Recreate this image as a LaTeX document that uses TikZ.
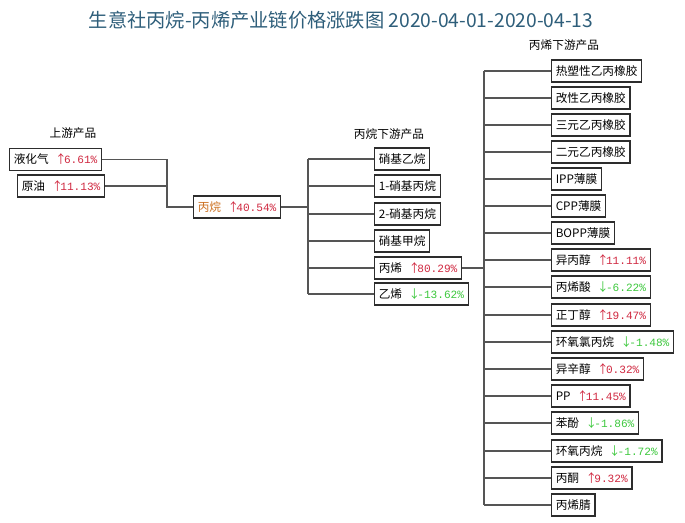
\documentclass[tikz,border=0pt]{standalone}
\usepackage{fontspec}
\setmainfont{Noto Sans CJK SC}
\newfontfamily\pctfont{Liberation Mono}
\usepackage{xcolor}
\usepackage{tikz}
\usetikzlibrary{positioning}

\definecolor{upred}{RGB}{208,40,64}
\definecolor{downgreen}{RGB}{60,200,60}
\definecolor{titleblue}{RGB}{46,94,122}
\definecolor{propaneorange}{RGB}{204,112,32}
\definecolor{boxgray}{RGB}{45,45,45}
\definecolor{linegray}{RGB}{85,85,85}

\newcommand{\pctup}[1]{\hspace{0.55em}{\color{upred}↑\kern-2pt{\pctfont\fontsize{7.9}{9}\selectfont #1\%}}}
\newcommand{\pctdown}[1]{\hspace{0.55em}{\color{downgreen}↓\kern-2pt{\pctfont\fontsize{7.9}{9}\selectfont #1\%}}}

\begin{document}
\begin{tikzpicture}[
  x=0.025cm, y=-0.025cm,
  font=\fontsize{8.3}{10}\selectfont,
  box/.style={rectangle, draw=boxgray, line width=0.8pt, anchor=west,
              inner xsep=3pt, inner ysep=0pt, minimum height=0.55cm, fill=white},
  link/.style={draw=linegray, line width=0.9pt}
]
\useasboundingbox (0,0) rectangle (685,522);

% --- Title ---
\node[text=titleblue, font=\fontsize{13.7}{16}\selectfont] (title) at (341,20)
  {生意社丙烷-丙烯产业链价格涨跌图 2020-04-01-2020-04-13};

% --- Headings ---
\node (uphead)   at (73,133)  {上游产品};
\node (c3head)   at (389,134) {丙烷下游产品};
\node (c3ehead)  at (564,45)  {丙烯下游产品};

% --- Upstream ---
\node[box] (lpg)     at (9,159.5) {液化气\pctup{6.61}};
\node[box] (crude)   at (17,186)  {原油\pctup{11.13}};
\node[box] (propane) at (193,207) {{\color{propaneorange}丙烷}\pctup{40.54}};

% --- Propane downstream ---
\node[box] (nitroethane)   at (374,159) {硝基乙烷};
\node[box] (nitropropaneA) at (374,186) {1-硝基丙烷};
\node[box] (nitropropaneB) at (374,214) {2-硝基丙烷};
\node[box] (nitromethane)  at (374,241) {硝基甲烷};
\node[box] (propylene)     at (374,268) {丙烯\pctup{80.29}};
\node[box] (ethylene)      at (374,294) {乙烯\pctdown{-13.62}};

% --- Propylene downstream ---
\node[box] (tpr)      at (551,71)  {热塑性乙丙橡胶};
\node[box] (mepr)     at (551,98)  {改性乙丙橡胶};
\node[box] (epdm)     at (551,125) {三元乙丙橡胶};
\node[box] (epm)      at (551,152) {二元乙丙橡胶};
\node[box] (ipp)      at (551,179) {IPP薄膜};
\node[box] (cpp)      at (551,206) {CPP薄膜};
\node[box] (bopp)     at (551,233) {BOPP薄膜};
\node[box] (ipa)      at (551,260) {异丙醇\pctup{11.11}};
\node[box] (acrylic)  at (551,287) {丙烯酸\pctdown{-6.22}};
\node[box] (butanol)  at (551,315) {正丁醇\pctup{19.47}};
\node[box] (ech)      at (551,342) {环氧氯丙烷\pctdown{-1.48}};
\node[box] (octanol)  at (551,369) {异辛醇\pctup{0.32}};
\node[box] (pp)       at (551,396) {PP\pctup{11.45}};
\node[box] (phenol)   at (551,423) {苯酚\pctdown{-1.86}};
\node[box] (po)       at (551,451) {环氧丙烷\pctdown{-1.72}};
\node[box] (acetone)  at (551,478) {丙酮\pctup{9.32}};
\node[box] (acn)      at (551,505) {丙烯腈};

% --- Connectors ---
\coordinate (jup) at (167,207);
\draw[link] (lpg.east) -| (jup) -- (propane.west);
\draw[link] (crude.east) -- (crude.east -| jup);

\coordinate (jc3) at (308,207);
\draw[link] (propane.east) -- (jc3);
\draw[link] (jc3 |- nitroethane.west) -- (jc3 |- ethylene.west);
\foreach \n in {nitroethane,nitropropaneA,nitropropaneB,nitromethane,propylene,ethylene}
  \draw[link] (jc3 |- \n.west) -- (\n.west);

\coordinate (jc3e) at (484,268);
\draw[link] (propylene.east) -- (jc3e);
\draw[link] (jc3e |- tpr.west) -- (jc3e |- acn.west);
\foreach \n in {tpr,mepr,epdm,epm,ipp,cpp,bopp,ipa,acrylic,butanol,ech,octanol,pp,phenol,po,acetone,acn}
  \draw[link] (jc3e |- \n.west) -- (\n.west);

\end{tikzpicture}
\end{document}
